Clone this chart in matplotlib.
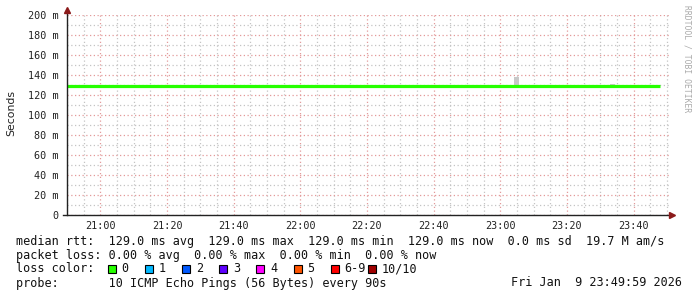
import matplotlib
matplotlib.use('Agg')
import matplotlib.pyplot as plt
import matplotlib.dates as mdates
from matplotlib.patches import Rectangle
import pandas as pd

# data (seconds)
window = pd.to_datetime(['2026-01-09 20:50:00', '2026-01-09 23:50:36'])
median_t = pd.to_datetime(['2026-01-09 20:50:00', '2026-01-09 23:48:00'])
median_rtt = [0.129, 0.129]
smoke_t = pd.to_datetime(['2026-01-09 23:04:00', '2026-01-09 23:33:00'])
smoke_lo = [0.1295, 0.1295]
smoke_hi = [0.138, 0.131]
y_ticks = [0.0, 0.02, 0.04, 0.06, 0.08, 0.10, 0.12, 0.14, 0.16, 0.18, 0.20]

rtt_line = 'median rtt:  129.0 ms avg  129.0 ms max  129.0 ms min  129.0 ms now  0.0 ms sd  19.7 M am/s'
loss_line = 'packet loss: 0.00 % avg  0.00 % max  0.00 % min  0.00 % now'
probe_line = 'probe:       10 ICMP Echo Pings (56 Bytes) every 90s'
stamp = 'Fri Jan  9 23:49:59 2026'
loss_labels = ['0', '1', '2', '3', '4', '5', '6-9', '10/10']
loss_colors = ['#26ff00', '#00b8ff', '#0059ff', '#5e00ff', '#ff00ff', '#ff5500', '#ff0000', '#a00000']

W, H = 697, 297
fig = plt.figure(figsize=(W / 100, H / 100), dpi=100)
fig.patch.set_facecolor('white')


def px(x, y):
    return x / W, 1 - y / H


ax = fig.add_axes([67 / W, (H - 215) / H, 602 / W, 200 / H])
ax.set_xlim(window[0], window[1])
ax.set_ylim(0, 0.2)

# grid
ax.xaxis.set_major_locator(mdates.MinuteLocator(byminute=[0, 20, 40]))
ax.xaxis.set_minor_locator(mdates.MinuteLocator(byminute=range(0, 60, 5)))
ax.xaxis.set_major_formatter(mdates.DateFormatter('%H:%M'))
ax.set_yticks(y_ticks)
ax.set_yticks([v + 0.01 for v in y_ticks[:-1]], minor=True)
ax.yaxis.set_major_formatter(lambda v, p: '0' if v == 0 else '%d m' % round(v * 1000))
ax.grid(which='minor', color='#c4c4c4', linestyle=(0, (1, 2)), linewidth=0.9)
ax.grid(which='major', color='#e39a9a', linestyle=(0, (1, 2)), linewidth=0.9)
ax.set_axisbelow(True)
ax.tick_params(which='both', length=0)
ax.tick_params(axis='y', pad=6, labelsize=7.3, labelcolor='#222222')
ax.tick_params(axis='x', pad=4, labelsize=7.3, labelcolor='#222222')
for lab in ax.get_xticklabels() + ax.get_yticklabels():
    lab.set_family('DejaVu Sans Mono')
for s in ax.spines.values():
    s.set_visible(False)

# smoke and median
for t, lo, hi in zip(smoke_t, smoke_lo, smoke_hi):
    ax.bar(t, hi - lo, bottom=lo, width=90 / 86400, align='edge', color='#c8c8c8', zorder=2)
ax.plot(median_t, median_rtt, color=loss_colors[0], linewidth=2.3, solid_capstyle='butt', zorder=3)

# axes lines with arrows
ax.plot([0, 0], [0, 1.025], transform=ax.transAxes, color='#222222', lw=1, clip_on=False, zorder=4)
ax.plot([-4 / 602, 1.0], [0, 0], transform=ax.transAxes, color='#222222', lw=1, clip_on=False, zorder=4)
ax.plot([0], [1.025], marker='^', ms=4.5, color='#8b1a1a', transform=ax.transAxes, clip_on=False, zorder=5)
ax.plot([1.005], [0], marker='>', ms=4.5, color='#8b1a1a', transform=ax.transAxes, clip_on=False, zorder=5)

fig.text(*px(11, 113), 'Seconds', rotation=90, ha='center', va='center', fontsize=7.8, color='#222222')
fig.text(*px(687, 5), 'RRDTOOL / TOBI OETIKER', rotation=270, ha='center', va='top',
         fontsize=5.8, color='#aaaaaa', family='DejaVu Sans Mono')

mono = dict(family='DejaVu Sans Mono', fontsize=8.5, color='#111111', va='center')
fig.text(*px(16, 241), rtt_line, **mono)
fig.text(*px(16, 255), loss_line, **mono)
fig.text(*px(16, 269), 'loss color:', **mono)
fig.text(*px(16, 283), probe_line, **mono)
fig.text(*px(682, 283), stamp, ha='right', **mono)

for i, (lab, c) in enumerate(zip(loss_labels, loss_colors)):
    x0 = 108 + i * 37.1
    bx, by = px(x0, 273)
    fig.patches.append(Rectangle((bx, by), 8 / W, 8 / H, transform=fig.transFigure,
                                 facecolor=c, edgecolor='black', linewidth=0.8))
    fig.text(*px(x0 + 13.5, 269), lab, **mono)

fig.savefig('out.png', dpi=100, facecolor='white')
